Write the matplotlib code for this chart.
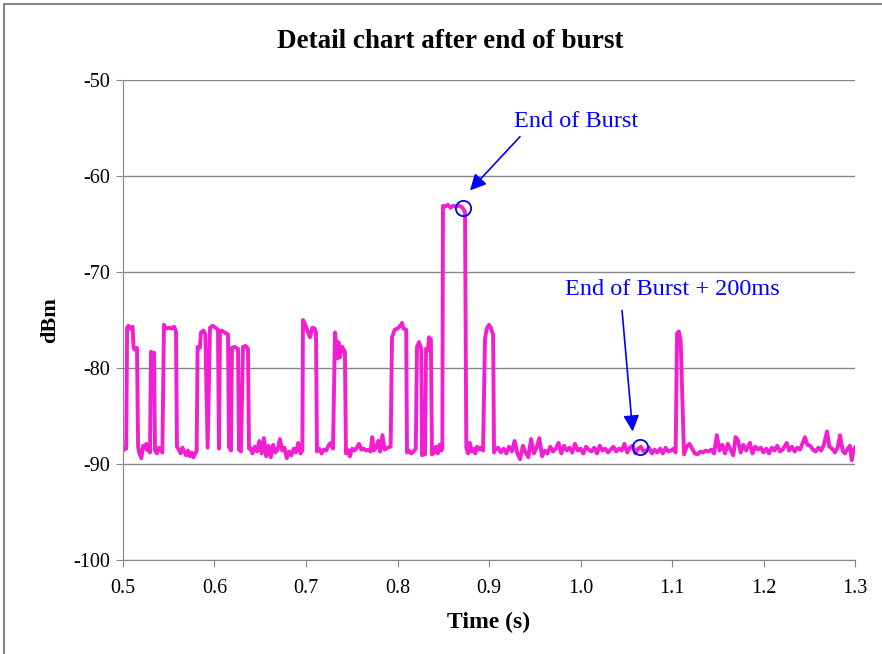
import matplotlib
matplotlib.use("Agg")
import matplotlib.pyplot as plt
from matplotlib.lines import Line2D

plt.rcParams['font.family'] = ['Liberation Serif', 'DejaVu Serif']
plt.rcParams['axes.unicode_minus'] = False

# signal trace (time in s, level in dBm)
time_s = [
    0.500, 0.502, 0.5035, 0.5045, 0.506, 0.508, 0.5105, 0.5115, 0.513, 0.5153, 0.5165,
    0.518, 0.520, 0.522, 0.524, 0.5255, 0.527, 0.5285, 0.5295,
    0.5306, 0.532, 0.5339, 0.5350, 0.537, 0.539, 0.541, 0.543,
    0.5448, 0.547, 0.550, 0.553, 0.556, 0.5579, 0.5590,
    0.561, 0.563, 0.565, 0.567, 0.569, 0.571, 0.573, 0.575, 0.577, 0.579, 0.5805,
    0.5815, 0.584, 0.5852, 0.588, 0.590, 0.5925,
    0.5951, 0.598, 0.601, 0.6038, 0.6049, 0.6060, 0.608, 0.611, 0.6148,
    0.6158, 0.6180, 0.6191, 0.622, 0.6257, 0.6268, 0.6290, 0.6311, 0.634, 0.6366, 0.6377,
    0.6390, 0.6415, 0.644, 0.6465, 0.649, 0.6515, 0.654, 0.6565, 0.659, 0.6615, 0.664,
    0.6665, 0.669, 0.6715, 0.674, 0.6765, 0.679, 0.6815, 0.684, 0.6865, 0.689, 0.6915,
    0.694, 0.6960,
    0.6967, 0.699, 0.7015, 0.7044, 0.707, 0.7095, 0.7109, 0.7120,
    0.7145, 0.717, 0.7195, 0.722, 0.7245, 0.727, 0.7295,
    0.7317, 0.733, 0.7345, 0.7355, 0.737, 0.7395, 0.7425, 0.7437,
    0.7455, 0.748, 0.7505, 0.753, 0.7555, 0.758, 0.7605, 0.763, 0.7655, 0.768, 0.7705,
    0.7725, 0.774, 0.7765, 0.779, 0.781, 0.7835, 0.786, 0.789, 0.7925,
    0.7940, 0.797, 0.800, 0.803, 0.805, 0.8065, 0.8095, 0.8104,
    0.8125, 0.815, 0.8175, 0.8200,
    0.8213, 0.8235, 0.826, 0.8268, 0.8290, 0.8301, 0.8312, 0.8333, 0.8344, 0.8365, 0.8377,
    0.840, 0.842, 0.844, 0.846, 0.848, 0.8490,
    0.8497, 0.852, 0.855, 0.858, 0.861, 0.864, 0.867, 0.870, 0.8725, 0.8738, 0.8752,
    0.877, 0.879, 0.881, 0.883, 0.885, 0.887, 0.889, 0.891, 0.8935,
    0.8956, 0.8975, 0.900, 0.902, 0.9033, 0.9045, 0.9055,
    0.907, 0.910, 0.913, 0.916, 0.919, 0.922, 0.925, 0.928, 0.931, 0.934, 0.937, 0.940,
    0.943, 0.946, 0.949, 0.952, 0.955, 0.958, 0.961, 0.964, 0.967, 0.970, 0.973, 0.976,
    0.979, 0.982, 0.985, 0.988, 0.991, 0.994, 0.997, 1.000, 1.003, 1.006, 1.009, 1.012,
    1.015, 1.018, 1.021, 1.024, 1.027, 1.030, 1.033, 1.036, 1.039, 1.042, 1.045, 1.048,
    1.051, 1.054, 1.057, 1.060, 1.063, 1.066, 1.069, 1.072, 1.075, 1.078, 1.081, 1.084,
    1.087, 1.090, 1.093, 1.096, 1.099, 1.102, 1.104,
    1.1055, 1.1075, 1.1095, 1.1131,
    1.116, 1.119, 1.122, 1.125, 1.128, 1.131, 1.134, 1.137, 1.140,
    1.143, 1.146, 1.149, 1.152, 1.155, 1.158, 1.161, 1.164, 1.167, 1.1695, 1.172, 1.175,
    1.178, 1.181, 1.1852, 1.188, 1.191, 1.194, 1.197, 1.200, 1.203, 1.206, 1.209, 1.212,
    1.215, 1.218, 1.221, 1.2253, 1.228, 1.231, 1.234, 1.237, 1.240, 1.2425, 1.2453, 1.248,
    1.251, 1.254, 1.257, 1.260, 1.263, 1.266, 1.2694, 1.272, 1.275, 1.278, 1.281, 1.2836,
    1.2865, 1.289, 1.292, 1.2945, 1.2964, 1.2985, 1.300,
]
level_dbm = [
    -88.6, -88.3, -88.4, -75.8, -75.6, -75.9, -75.7, -77.9, -78.1, -77.9, -88.2,
    -88.9, -89.4, -88.1, -88.4, -87.9, -88.6, -88.0, -88.8,
    -78.3, -78.5, -78.4, -88.6, -88.9, -88.3, -88.5, -88.8,
    -75.5, -75.9, -75.8, -75.9, -75.7, -76.2, -88.2,
    -88.5, -88.9, -88.3, -88.7, -89.1, -88.6, -89.2, -88.8, -89.3, -88.9, -88.6,
    -77.8, -77.9, -76.3, -76.1, -76.5, -88.3,
    -75.8, -75.6, -75.8, -76.0, -88.4, -76.2, -76.1, -76.3, -76.5,
    -88.2, -88.6, -77.9, -77.8, -78.0, -88.5, -88.7, -77.8, -77.7, -78.0, -88.4,
    -88.3, -88.9, -88.2, -88.7, -87.6, -88.9, -87.3, -89.2, -88.1, -89.3, -88.0,
    -88.8, -88.5, -87.4, -88.6, -88.3, -89.4, -88.7, -89.1, -88.4, -88.8, -87.8,
    -88.9, -88.6,
    -75.0, -75.4, -76.1, -76.8, -75.8, -75.9, -76.3, -88.7,
    -88.4, -88.9, -88.5, -88.6, -88.1, -87.8, -88.4,
    -76.3, -77.5, -79.0, -77.3, -78.9, -77.8, -78.3, -88.9,
    -88.5, -89.2, -88.4, -88.6, -88.3, -87.9, -88.5, -88.4, -88.6, -88.5, -88.7,
    -87.2, -88.6, -88.3, -87.6, -88.7, -87.0, -88.5, -88.3, -88.2,
    -76.8, -76.0, -75.9, -75.6, -75.3, -75.9, -76.0, -88.8,
    -88.6, -88.9, -88.7, -88.4,
    -77.8, -77.3, -78.0, -89.1, -88.9, -89.0, -78.0, -78.2, -76.8, -77.0, -89.0,
    -88.8, -88.2, -88.9, -88.0, -88.6, -88.4,
    -63.1, -63.2, -63.0, -63.3, -63.1, -63.2, -63.1, -63.2, -63.5, -63.8, -88.3,
    -88.9, -87.8, -88.7, -88.4, -88.9, -88.2, -88.5, -88.3, -88.6,
    -77.0, -75.9, -75.5, -75.8, -76.2, -76.5, -88.8,
    -88.5, -88.3, -88.8, -88.4, -88.9, -88.2, -88.7, -87.6, -88.9, -89.5, -88.1, -88.8,
    -89.3, -87.4, -88.9, -88.3, -87.3, -89.2, -88.6, -88.9, -88.2, -88.7, -88.4, -87.8,
    -88.9, -88.1, -88.6, -88.3, -88.8, -87.9, -88.6, -88.4, -88.9, -88.2, -88.5, -88.7,
    -88.3, -88.9, -88.1, -88.6, -88.4, -88.8, -88.5, -88.2, -88.7, -88.4, -88.6, -87.9,
    -88.8, -88.3, -88.1, -88.9, -88.4, -88.2, -88.7, -88.6, -88.3, -88.9, -88.5, -88.8,
    -88.4, -88.9, -88.3, -88.7, -88.6, -88.4, -88.8,
    -76.4, -76.2, -77.2, -89.0,
    -88.2, -87.9, -88.4, -88.9, -89.0, -88.7, -88.8, -88.6, -88.7,
    -88.5, -88.9, -87.0, -88.6, -88.0, -88.9, -87.9, -88.5, -89.1, -87.2, -87.5, -88.8,
    -88.0, -88.6, -87.8, -88.9, -88.2, -88.5, -88.3, -88.8, -88.4, -88.9, -88.3, -88.6,
    -88.1, -88.7, -88.5, -87.8, -88.6, -88.2, -88.7, -88.3, -88.5, -87.9, -87.2, -88.0,
    -88.1, -88.5, -88.7, -88.3, -88.6, -88.0, -86.6, -88.2, -88.4, -88.8, -88.3, -87.0,
    -88.6, -88.9, -88.4, -88.1, -89.6, -88.5, -88.3,
]

# marked points and their labels
mark_t = [0.8716, 1.065]
mark_v = [-63.3, -88.2]
labels = ["End of Burst", "End of Burst + 200ms"]
label_pos = [(0.9951, -54.3), (1.100, -71.8)]
arrow_tail = [(0.9339, -55.9), (1.0454, -74.0)]
arrow_tip = [(0.8792, -61.5), (1.0570, -86.6)]

x_ticks = [0.5, 0.6, 0.7, 0.8, 0.9, 1.0, 1.1, 1.2, 1.3]
y_ticks = [-100, -90, -80, -70, -60, -50]

fig = plt.figure(figsize=(8.82, 6.54), dpi=100)
ax = fig.add_axes([123 / 882, 1 - 560 / 654, 732 / 882, 480 / 654])

ax.plot(time_s, level_dbm, color='#F21FD0', lw=2.8, solid_joinstyle='round')
ax.plot(mark_t, mark_v, 'o', ms=11, mfc='none', mec='#0000FF', mew=1.3)

for txt, pos, tail, tip in zip(labels, label_pos, arrow_tail, arrow_tip):
    ax.text(pos[0], pos[1], txt, color='#0000FF', fontsize=17.5, ha='center', va='center')
    ax.annotate('', xy=tip, xytext=tail,
                arrowprops=dict(arrowstyle='-|>', color='#0000FF', lw=1.2,
                                mutation_scale=24, shrinkA=0, shrinkB=0))

ax.set_xlim(0.5, 1.3)
ax.set_ylim(-100, -50)
ax.set_xticks(x_ticks)
ax.set_xticklabels([f"{v:.1f}" for v in x_ticks])
ax.set_yticks(y_ticks)
ax.yaxis.grid(True, color='#868686', lw=1)
ax.set_axisbelow(True)
for s in ['top', 'right']:
    ax.spines[s].set_visible(False)
for s in ['left', 'bottom']:
    ax.spines[s].set_color('#868686')
ax.tick_params(colors='#868686', labelcolor='black', labelsize=14.5, direction='out', length=5)
ax.tick_params(axis='x', pad=9)
ax.tick_params(axis='y', pad=4)

fig.text(450 / 882, 1 - 41 / 654, 'Detail chart after end of burst', fontsize=19.5,
         fontweight='bold', ha='center', va='center')
ax.set_xlabel('Time (s)', fontsize=17, fontweight='bold', labelpad=10)
ax.set_ylabel('dBm', fontsize=16, fontweight='bold', labelpad=10)

# chart area frame
fig.add_artist(Line2D([4 / 882, 4 / 882], [0, 1 - 4 / 654], color='#868686', lw=1.5))
fig.add_artist(Line2D([4 / 882, 1], [1 - 4 / 654, 1 - 4 / 654], color='#868686', lw=1.5))

fig.savefig('out.png', dpi=100)
